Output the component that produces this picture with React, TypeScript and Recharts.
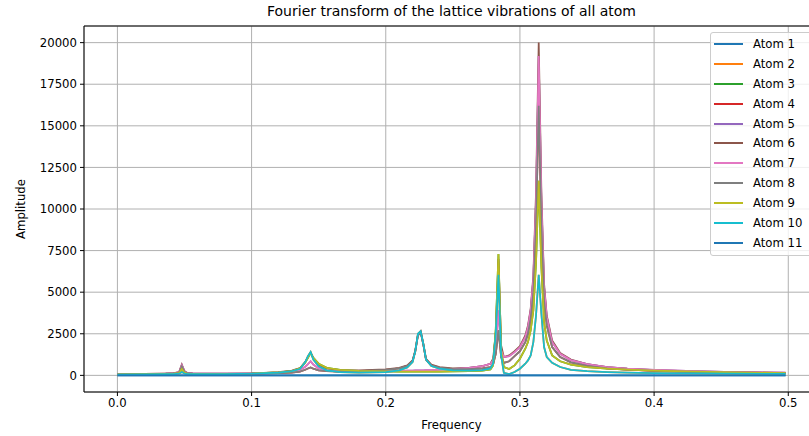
import React from 'react';
import { LineChart, Line, XAxis, YAxis, CartesianGrid, ReferenceLine } from 'recharts';

// frequency samples (denser around the peaks)
const freq = [
  0, 0.02, 0.036, 0.042, 0.046, 0.048, 0.05, 0.052, 0.056, 0.062,
  0.08, 0.1, 0.12, 0.13, 0.136, 0.14, 0.142, 0.144, 0.146, 0.15,
  0.156, 0.166, 0.18, 0.2, 0.21, 0.216, 0.22, 0.222, 0.224, 0.226,
  0.228, 0.23, 0.234, 0.24, 0.25, 0.262, 0.272, 0.278, 0.28, 0.282,
  0.284, 0.286, 0.288, 0.292, 0.296, 0.3, 0.304, 0.306, 0.308, 0.31,
  0.312, 0.314, 0.316, 0.318, 0.32, 0.324, 0.33, 0.338, 0.35, 0.365,
  0.38, 0.4, 0.43, 0.46, 0.498,
];

const atom1 = [
  0, 0, 0, 0, 0, 0, 0, 0, 0, 0,
  0, 0, 0, 0, 0, 0, 0, 0, 0, 0,
  0, 0, 0, 0, 0, 0, 0, 0, 0, 0,
  0, 0, 0, 0, 0, 0, 0, 0, 0, 0,
  0, 0, 0, 0, 0, 0, 0, 0, 0, 0,
  0, 0, 0, 0, 0, 0, 0, 0, 0, 0,
  0, 0, 0, 0, 0,
];
const atom2 = [
  50, 60, 70, 75, 100, 200, 110, 80, 70, 70,
  80, 100, 170, 250, 380, 800, 1150, 1400, 950, 550,
  300, 200, 170, 200, 300, 480, 800, 1450, 2500, 2650,
  1900, 950, 560, 400, 300, 290, 320, 420, 700, 2500,
  6050, 1200, 150, 80, 200, 400, 700, 900, 1200, 2000,
  3600, 6050, 3700, 1700, 1100, 750, 500, 330, 250, 200,
  170, 140, 120, 100, 90,
];
const atom3 = [
  60, 75, 90, 100, 140, 380, 160, 110, 95, 90,
  90, 110, 180, 260, 420, 780, 1050, 1350, 1050, 700,
  450, 330, 270, 240, 230, 230, 230, 230, 230, 230,
  230, 230, 230, 230, 240, 250, 280, 350, 600, 2800,
  7300, 1500, 500, 380, 600, 1000, 1600, 2000, 2700, 3900,
  6800, 11700, 6500, 3200, 2100, 1200, 850, 650, 500, 400,
  340, 280, 220, 180, 140,
];
const atom4 = [
  70, 85, 100, 115, 170, 540, 210, 130, 105, 95,
  90, 100, 130, 170, 230, 340, 410, 480, 400, 300,
  250, 230, 250, 330, 420, 570, 880, 1450, 2400, 2600,
  1850, 950, 600, 460, 380, 380, 420, 500, 650, 1300,
  2700, 1100, 750, 850, 1150, 1450, 2000, 2500, 3400, 5000,
  9000, 16200, 9000, 4500, 3000, 1700, 1100, 780, 570, 420,
  340, 270, 210, 170, 130,
];
const atom5 = [
  75, 90, 105, 125, 190, 620, 240, 145, 115, 105,
  100, 110, 160, 220, 320, 520, 680, 850, 650, 420,
  300, 240, 220, 240, 260, 280, 290, 300, 300, 300,
  300, 310, 320, 340, 380, 450, 560, 700, 900, 1800,
  3900, 1500, 1100, 1150, 1400, 1700, 2300, 2900, 3900, 5800,
  10500, 19200, 10500, 5300, 3500, 2000, 1300, 920, 680, 500,
  410, 330, 250, 200, 160,
];
const atom6 = [
  80, 95, 110, 130, 200, 650, 250, 150, 120, 110,
  105, 120, 190, 280, 430, 800, 1100, 1380, 1050, 650,
  420, 320, 300, 360, 450, 600, 900, 1500, 2450, 2650,
  1900, 1000, 650, 500, 420, 450, 550, 700, 1000, 2500,
  7000, 1800, 1100, 1200, 1450, 1750, 2400, 3000, 4000, 6000,
  11000, 20000, 11000, 5500, 3600, 2100, 1350, 950, 680, 500,
  400, 320, 240, 190, 150,
];
const atom7 = [
  75, 90, 105, 125, 190, 620, 240, 145, 115, 105,
  100, 110, 160, 220, 320, 520, 680, 850, 650, 420,
  300, 240, 220, 240, 260, 280, 290, 300, 300, 300,
  300, 310, 320, 340, 380, 450, 560, 700, 900, 1800,
  3900, 1500, 1100, 1150, 1400, 1700, 2300, 2900, 3900, 5800,
  10500, 19200, 10500, 5300, 3500, 2000, 1300, 920, 680, 500,
  410, 330, 250, 200, 160,
];
const atom8 = [
  70, 85, 100, 115, 170, 540, 210, 130, 105, 95,
  90, 100, 130, 170, 230, 340, 410, 480, 400, 300,
  250, 230, 250, 330, 420, 570, 880, 1450, 2400, 2600,
  1850, 950, 600, 460, 380, 380, 420, 500, 650, 1300,
  2700, 1100, 750, 850, 1150, 1450, 2000, 2500, 3400, 5000,
  9000, 16200, 9000, 4500, 3000, 1700, 1100, 780, 570, 420,
  340, 270, 210, 170, 130,
];
const atom9 = [
  60, 75, 90, 100, 140, 380, 160, 110, 95, 90,
  90, 110, 180, 260, 420, 780, 1050, 1350, 1050, 700,
  450, 330, 270, 240, 230, 230, 230, 230, 230, 230,
  230, 230, 230, 230, 240, 250, 280, 350, 600, 2800,
  7300, 1500, 500, 380, 600, 1000, 1600, 2000, 2700, 3900,
  6800, 11700, 6500, 3200, 2100, 1200, 850, 650, 500, 400,
  340, 280, 220, 180, 140,
];
const atom10 = [
  50, 60, 70, 75, 100, 200, 110, 80, 70, 70,
  80, 100, 170, 250, 380, 800, 1150, 1400, 950, 550,
  300, 200, 170, 200, 300, 480, 800, 1450, 2500, 2650,
  1900, 950, 560, 400, 300, 290, 320, 420, 700, 2500,
  6050, 1200, 150, 80, 200, 400, 700, 900, 1200, 2000,
  3600, 6050, 3700, 1700, 1100, 750, 500, 330, 250, 200,
  170, 140, 120, 100, 90,
];
const atom11 = [
  0, 0, 0, 0, 0, 0, 0, 0, 0, 0,
  0, 0, 0, 0, 0, 0, 0, 0, 0, 0,
  0, 0, 0, 0, 0, 0, 0, 0, 0, 0,
  0, 0, 0, 0, 0, 0, 0, 0, 0, 0,
  0, 0, 0, 0, 0, 0, 0, 0, 0, 0,
  0, 0, 0, 0, 0, 0, 0, 0, 0, 0,
  0, 0, 0, 0, 0,
];

const xTicks = [0, 0.1, 0.2, 0.3, 0.4, 0.5];
const yTicks = [0, 2500, 5000, 7500, 10000, 12500, 15000, 17500, 20000];

const seriesNames = [
  'Atom 1', 'Atom 2', 'Atom 3', 'Atom 4', 'Atom 5', 'Atom 6',
  'Atom 7', 'Atom 8', 'Atom 9', 'Atom 10', 'Atom 11',
];
const seriesValues = [atom1, atom2, atom3, atom4, atom5, atom6, atom7, atom8, atom9, atom10, atom11];
const seriesColors = [
  '#1f77b4', '#ff7f0e', '#2ca02c', '#d62728', '#9467bd', '#8c564b',
  '#e377c2', '#7f7f7f', '#bcbd22', '#17becf', '#1f77b4',
];

const data = freq.map((f, i) => {
  const row: Record<string, number> = { f };
  seriesValues.forEach((s, j) => {
    row[seriesNames[j]] = s[i];
  });
  return row;
});

const FONT = '"DejaVu Sans", sans-serif';

const LegendBox = () => (
  <div
    style={{
      position: 'absolute',
      left: 710,
      top: 32,
      background: 'rgba(255,255,255,0.8)',
      border: '1px solid #cccccc',
      borderRadius: 3,
      padding: '1px 12px 2px 3px',
      fontFamily: FONT,
      fontSize: 11.7,
      color: '#000',
      width: 120,
      boxSizing: 'border-box',
    }}
  >
    {seriesNames.map((name, j) => (
      <div key={name} style={{ display: 'flex', alignItems: 'center', height: 19.9 }}>
        <span style={{ display: 'inline-block', width: 29, height: 2, background: seriesColors[j], marginRight: 10 }} />
        <span>{name}</span>
      </div>
    ))}
  </div>
);

export default function App() {
  return (
    <div style={{ position: 'absolute', left: 0, top: 0, width: 809, height: 436, overflow: 'hidden', background: '#fff' }}>
      <div
        style={{
          position: 'absolute', top: 3, left: 0, width: 903, textAlign: 'center',
          fontFamily: FONT, fontSize: 14, color: '#000',
        }}
      >
        Fourier transform of the lattice vibrations of all atom
      </div>
      <LineChart
        width={830}
        height={436}
        data={data}
        margin={{ top: 26, right: 11, left: 0, bottom: 0 }}
        style={{ fontFamily: FONT }}
      >
        <CartesianGrid stroke="#b0b0b0" strokeWidth={1} />
        <XAxis
          dataKey="f"
          type="number"
          domain={[-0.0249, 0.5229]}
          ticks={xTicks}
          allowDataOverflow
          tickFormatter={(v: number) => v.toFixed(1)}
          height={44}
          tickSize={4}
          tickMargin={3}
          stroke="#000"
          tick={{ fill: '#000', fontSize: 11.7 }}
          label={{ value: 'Frequency', position: 'insideBottom', offset: 7, fill: '#000', fontSize: 11.7 }}
        />
        <YAxis
          type="number"
          domain={[-1000, 21000]}
          ticks={yTicks}
          allowDataOverflow
          width={84}
          tickSize={4}
          tickMargin={3}
          stroke="#000"
          tick={{ fill: '#000', fontSize: 11.7 }}
          label={{ value: 'Amplitude', angle: -90, position: 'insideLeft', offset: 21, fill: '#000', fontSize: 11.7, style: { textAnchor: 'middle' } }}
        />
        <ReferenceLine y={21000} stroke="#000" strokeWidth={1} />
        <ReferenceLine x={0.5229} stroke="#000" strokeWidth={1} />
        {seriesNames.map((name, j) => (
          <Line
            key={name}
            type="linear"
            dataKey={name}
            stroke={seriesColors[j]}
            strokeWidth={1.75}
            dot={false}
            isAnimationActive={false}
          />
        ))}
      </LineChart>
      <LegendBox />
    </div>
  );
}
